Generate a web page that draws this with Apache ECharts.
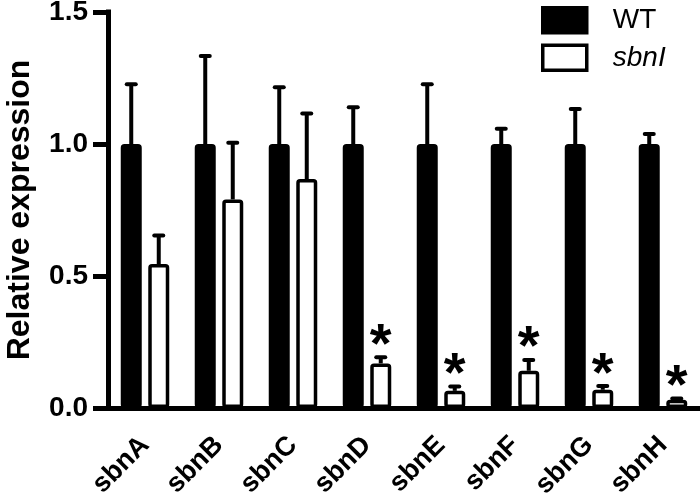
<!DOCTYPE html>
<html><head><meta charset="utf-8">
<script src="https://cdn.jsdelivr.net/npm/echarts@6/dist/echarts.min.js"></script>
<style>html,body{margin:0;padding:0;background:#fff}#c{width:700px;height:499px}</style>
</head><body><div id="c"></div>
<script>
const categories = ['sbnA','sbnB','sbnC','sbnD','sbnE','sbnF','sbnG','sbnH'];
const wtValues = [1, 1, 1, 1, 1, 1, 1, 1];
const wtErrors = [0.226, 0.333, 0.215, 0.139, 0.226, 0.058, 0.133, 0.038];
const sbnIValues = [0.545, 0.79, 0.867, 0.169, 0.065, 0.141, 0.069, 0.031];
const sbnIErrors = [0.108, 0.215, 0.249, 0.023, 0.016, 0.041, 0.014, 0.005];
const significant = [false, false, false, true, true, true, true, true];
const seriesNames = ['WT', 'sbnI'];
const yMin = 0, yMax = 1.5, yStep = 0.5;

const FONT = '"Liberation Sans", Arial, Helvetica, sans-serif';
const BAR_W = 21, GAP = 0.31;
const OFF = (BAR_W + BAR_W * GAP) / 2;

function errRender(offset) {
  return function (params, api) {
    const i = api.value(0), v = api.value(1), e = api.value(2), s = api.value(3);
    const base = api.coord([i, v]);
    const top = api.coord([i, v + e]);
    const x = base[0] + offset;
    const children = [
      {type: 'line', shape: {x1: x, y1: base[1], x2: x, y2: top[1]}, style: {stroke: '#000', lineWidth: 4}},
      {type: 'line', shape: {x1: x - 4.5, y1: top[1], x2: x + 4.5, y2: top[1]}, style: {stroke: '#000', lineWidth: 4, lineCap: 'round'}}
    ];
    if (s) {
      children.push({type: 'text', style: {text: '*', x: x, y: top[1] - 11, align: 'center', verticalAlign: 'middle',
        font: 'bold 56px ' + FONT, fill: '#000'}});
    }
    return {type: 'group', children};
  };
}

const chart = echarts.init(document.getElementById('c'), null, {renderer: 'canvas'});
chart.setOption({
  animation: false,
  backgroundColor: '#fff',
  grid: {left: 108, right: 0, top: 12, bottom: 91, containLabel: false, outerBoundsMode: 'none'},
  legend: {
    orient: 'vertical', left: 541, top: 6, padding: 0, itemGap: 9,
    itemWidth: 44, itemHeight: 25, icon: 'rect',
    data: [
      {name: seriesNames[0], itemStyle: {color: '#000', borderColor: '#000', borderWidth: 3.5}},
      {name: seriesNames[1], itemStyle: {color: '#fff', borderColor: '#000', borderWidth: 3.5}}
    ],
    formatter: n => n === 'sbnI' ? '{i|sbnI}' : n,
    textStyle: {fontSize: 28, color: '#000', fontFamily: FONT, padding: [0, 0, 0, 21],
      rich: {i: {fontStyle: 'italic', fontSize: 28, fontFamily: FONT, color: '#000'}}}
  },
  xAxis: {
    type: 'category', data: categories,
    axisLine: {lineStyle: {color: '#000', width: 5}},
    axisTick: {alignWithLabel: true, length: 15, lineStyle: {color: '#000', width: 5}},
    axisLabel: {rotate: 45, margin: 33, fontSize: 27, fontWeight: 'bold', color: '#000', fontFamily: FONT,
      interval: 0}
  },
  yAxis: {
    type: 'value', min: yMin, max: yMax, interval: yStep,
    name: 'Relative expression', nameLocation: 'middle', nameGap: 72,
    nameTextStyle: {fontSize: 32, fontWeight: 'bold', color: '#000', fontFamily: FONT},
    axisLine: {show: true, lineStyle: {color: '#000', width: 5, cap: 'square'}},
    axisTick: {show: true, length: 15, lineStyle: {color: '#000', width: 5}},
    axisLabel: {margin: 20, fontSize: 28, fontWeight: 'bold', color: '#000', fontFamily: FONT,
      formatter: v => v.toFixed(1)},
    splitLine: {show: false}
  },
  series: [
    {name: seriesNames[0], type: 'bar', data: wtValues, barWidth: BAR_W, barGap: (GAP * 100) + '%',
      itemStyle: {color: '#000', borderColor: '#000', borderWidth: 3.5, borderRadius: 2}},
    {name: seriesNames[1], type: 'bar', data: sbnIValues, barWidth: BAR_W,
      itemStyle: {color: '#fff', borderColor: '#000', borderWidth: 3.5, borderRadius: 2}},
    {type: 'custom', renderItem: errRender(-OFF), z: 5,
      data: wtValues.map((v, i) => [i, v, wtErrors[i], 0])},
    {type: 'custom', renderItem: errRender(OFF), z: 5,
      data: sbnIValues.map((v, i) => [i, v, sbnIErrors[i], significant[i] ? 1 : 0])}
  ]
});
</script></body></html>
